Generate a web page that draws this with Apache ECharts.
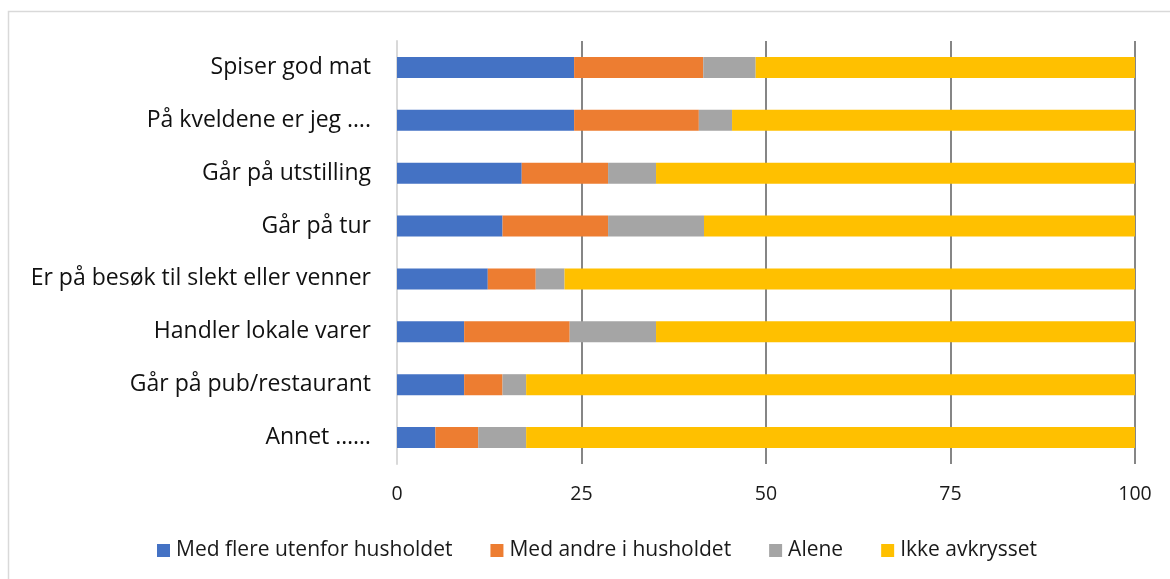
<!DOCTYPE html>
<html>
<head>
<meta charset="utf-8">
<script src="https://cdn.jsdelivr.net/npm/echarts@6/dist/echarts.min.js"></script>
<style>
html,body{margin:0;padding:0;background:#fff;}
#chart{width:1170px;height:579px;}
</style>
</head>
<body>
<div id="chart"></div>
<script>
const categories = ["Spiser god mat","På kveldene er jeg ….","Går på utstilling","Går på tur","Er på besøk til slekt eller venner","Handler lokale varer","Går på pub/restaurant","Annet ……"];
const seriesNames = ["Med flere utenfor husholdet","Med andre i husholdet","Alene","Ikke avkrysset"];
const medFlere = [24.0, 24.0, 16.9, 14.3, 12.3, 9.1, 9.1, 5.2];
const medAndre = [17.5, 16.9, 11.7, 14.3, 6.5, 14.3, 5.2, 5.8];
const alene    = [7.1, 4.5, 6.5, 13.0, 3.9, 11.7, 3.2, 6.5];
const ikke     = [51.4, 54.6, 64.9, 58.4, 77.3, 64.9, 82.5, 82.5];
const xTicks = [0, 25, 50, 75, 100];

const colors = ["#4472C4","#ED7D31","#A5A5A5","#FFC000"];
const font = "'Open Sans', 'Noto Sans', sans-serif";
const chart = echarts.init(document.getElementById('chart'), null, {renderer:'canvas'});
const dataSets = [medFlere, medAndre, alene, ikke];
chart.setOption({
  animation:false,
  backgroundColor:'#fff',
  textStyle:{fontFamily:font},
  graphic:[{type:'rect', shape:{x:8.5,y:11.5,width:1300,height:800}, style:{fill:'none', stroke:'#d9d9d9', lineWidth:1.5}, silent:true}],
  grid:{left:397, right:35, top:41, bottom:115, containLabel:false},
  legend:{
    top:535, left:152,
    itemWidth:13, itemHeight:13, itemGap:38,
    icon:'rect',
    textStyle:{fontSize:21, color:'#1a1a1a', fontFamily:font, padding:[0,0,0,1]},
    data:seriesNames
  },
  xAxis:{
    type:'value', min:0, max:100, interval:25,
    axisLine:{show:false}, axisTick:{show:false},
    splitLine:{show:true, lineStyle:{color:'#868686', width:2}},
    axisLabel:{fontSize:19.5, color:'#1a1a1a', margin:20, fontFamily:font,
      formatter:function(v){return xTicks.indexOf(v)>=0? String(v):'';}}
  },
  yAxis:{
    type:'category', data:categories, inverse:true,
    axisLine:{show:true, lineStyle:{color:'#d9d9d9', width:2}},
    axisTick:{show:false},
    axisLabel:{fontSize:23, color:'#111', margin:26, fontFamily:font}
  },
  series: seriesNames.map((n,i)=>({
    name:n, type:'bar', stack:'total', barWidth:21,
    itemStyle:{color:colors[i]},
    data:dataSets[i]
  }))
});
</script>
</body>
</html>
